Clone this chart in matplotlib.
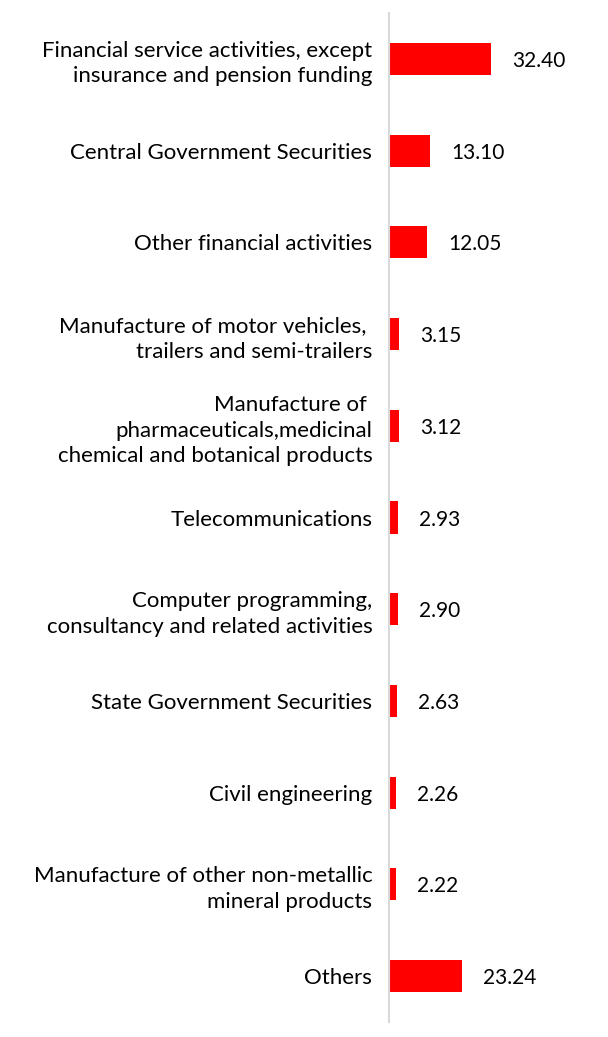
import matplotlib
matplotlib.use('Agg')
import matplotlib.pyplot as plt

# sector names and weights (%)
sectors = [
    'Financial service activities, except\ninsurance and pension funding',
    'Central Government Securities',
    'Other financial activities',
    'Manufacture of motor vehicles, \ntrailers and semi-trailers',
    'Manufacture of \npharmaceuticals,medicinal\nchemical and botanical products',
    'Telecommunications',
    'Computer programming,\nconsultancy and related activities',
    'State Government Securities',
    'Civil engineering',
    'Manufacture of other non-metallic\nmineral products',
    'Others',
]
weights = [32.40, 13.10, 12.05, 3.15, 3.12, 2.93, 2.90, 2.63, 2.26, 2.22, 23.24]

plt.rcParams['font.family'] = ['Lato', 'DejaVu Sans']

fig = plt.figure(figsize=(6.08, 10.37), dpi=100)
ax = fig.add_axes([389 / 608, 1 - 1022 / 1037, 126 / 608, 1009 / 1037])

y = list(range(len(sectors)))
ax.barh(y, weights, height=0.35, color='#ff0000')
ax.set_xlim(0, 40)
ax.set_ylim(len(sectors) - 0.5, -0.5)

for yi, w in zip(y, weights):
    ax.annotate(f'{w:.2f}', (w, yi), xytext=(15, 0), textcoords='offset points',
                va='center_baseline', ha='left', fontsize=15, annotation_clip=False)

ax.set_yticks(y)
ax.set_yticklabels(sectors, fontsize=16, linespacing=1.35)
ax.tick_params(axis='y', length=0, pad=12)
ax.set_xticks([])
for s in ['top', 'right', 'bottom']:
    ax.spines[s].set_visible(False)
ax.spines['left'].set_color('#d9d9d9')
ax.spines['left'].set_linewidth(1.5)

fig.savefig('out.png', dpi=100)
